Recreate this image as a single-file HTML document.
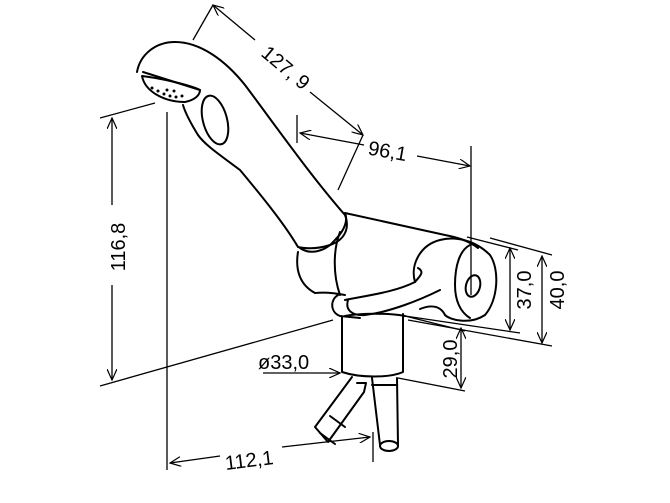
<!DOCTYPE html>
<html><head><style>
html,body{margin:0;padding:0;background:#fff;}
svg{display:block}
text{font-family:"Liberation Sans","DejaVu Sans",sans-serif;font-size:20px;fill:#000}
</style></head><body>
<svg width="670" height="503" viewBox="0 0 670 503" xmlns="http://www.w3.org/2000/svg">
<defs>
<marker id="a" viewBox="0 0 12 10" refX="11" refY="5" markerWidth="12" markerHeight="10" orient="auto-start-reverse" markerUnits="userSpaceOnUse">
<path d="M0,0 L11,5 L0,10" fill="none" stroke="#000" stroke-width="1.2"/>
</marker>
</defs>
<g fill="none" stroke="#000" stroke-width="1.3">
<line x1="193" y1="40" x2="213" y2="5"/>
<line x1="338" y1="190" x2="363" y2="135"/>
<line x1="213" y1="5" x2="255" y2="40" marker-start="url(#a)"/>
<line x1="310" y1="92" x2="363" y2="135" marker-end="url(#a)"/>
<line x1="297" y1="115" x2="297" y2="143"/>
<line x1="300" y1="133" x2="364" y2="145" marker-start="url(#a)"/>
<line x1="417" y1="156" x2="470" y2="166" marker-end="url(#a)"/>
<line x1="471" y1="146" x2="471" y2="295"/>
<line x1="100" y1="118" x2="155" y2="103"/>
<line x1="100" y1="386" x2="333" y2="320"/>
<line x1="112" y1="118" x2="112" y2="205" marker-start="url(#a)"/>
<line x1="112" y1="285" x2="112" y2="380" marker-end="url(#a)"/>
<line x1="167" y1="112" x2="167" y2="470"/>
<line x1="170" y1="463" x2="220" y2="456" marker-start="url(#a)"/>
<line x1="282" y1="447" x2="370" y2="437" marker-end="url(#a)"/>
<line x1="373" y1="432" x2="373" y2="462"/>
<line x1="263" y1="373" x2="340" y2="373" marker-end="url(#a)"/>
<line x1="405" y1="316" x2="465" y2="331"/>
<line x1="398" y1="378" x2="465" y2="391"/>
<line x1="461" y1="328" x2="461" y2="388" marker-start="url(#a)" marker-end="url(#a)"/>
<line x1="467" y1="237" x2="518" y2="250"/>
<line x1="405" y1="316" x2="520" y2="333"/>
<line x1="510" y1="248" x2="510" y2="330" marker-start="url(#a)" marker-end="url(#a)"/>
<line x1="490" y1="238" x2="552" y2="255"/>
<line x1="408" y1="320" x2="552" y2="346"/>
<line x1="542" y1="256" x2="542" y2="343" marker-start="url(#a)" marker-end="url(#a)"/>
</g>
<g fill="none" stroke="#000" stroke-width="2" stroke-linejoin="round" stroke-linecap="round">
<path d="M137,72 C140,55 155,42 175,42 C200,42 225,60 245,85 C275,125 310,175 345,215 C350,228 345,240 330,245 C315,250 302,248 298,247 C285,225 265,200 240,170 C220,155 205,145 198,135 C190,122 185,112 183,105"/>
<path d="M143,72 L200,90"/>
<path d="M142,76 C145,92 165,102 185,102 C195,100 200,95 200,90 C190,85 160,78 142,76Z"/>
<ellipse cx="215" cy="120" rx="12" ry="25" transform="rotate(-15 215 120)"/>
<path d="M300,248 C310,255 325,252 335,240 C345,230 348,220 345,213"/>
<path d="M345,213 L445,235 C455,237 468,240 478,248"/>
<path d="M298,252 C295,270 300,285 315,293"/>
<path d="M340,232 C333,250 333,275 340,295"/>
<path d="M315,293 C325,292 335,293 345,295"/>
<path d="M338,295 C330,300 330,312 340,316 L360,318"/>
<path d="M348,300 C345,310 352,316 365,315 C390,312 420,300 440,290"/>
<path d="M345,300 C370,295 395,292 415,282 C420,276 425,272 418,268"/>
<path d="M415,282 C410,265 420,245 440,240 C455,236 475,240 490,255 C500,270 498,300 485,315 C470,325 450,320 445,315 C440,305 430,305 420,309"/>
<path d="M470,245 C460,250 455,265 455,285 C455,300 460,312 470,318"/>
<ellipse cx="473" cy="286" rx="7" ry="11" transform="rotate(15 473 286)"/>
<path d="M345,316 C360,313 390,313 405,316"/>
<path d="M342,317 L342,372 C360,378 390,378 403,372 L403,314"/>
<path d="M352,377 L315,427 L328,442 L364,392 L366,383 L357,383"/>
<path d="M320,433 L335,444"/>
<path d="M330,416 L345,427"/>
<path d="M372,378 L380,445 M397,378 L398,445"/>
<path d="M372,385 L397,385"/>
<ellipse cx="389" cy="446" rx="9" ry="5"/>
</g>
<g fill="#000">
<circle cx="158" cy="91" r="1.5"/><circle cx="164" cy="94" r="1.5"/><circle cx="170" cy="96" r="1.5"/><circle cx="176" cy="97" r="1.5"/><circle cx="182" cy="96" r="1.5"/><circle cx="167" cy="90" r="1.5"/><circle cx="174" cy="91" r="1.5"/><circle cx="152" cy="88" r="1.5"/>
</g>
<text transform="translate(260,55) rotate(40)">127, 9</text>
<text x="368" y="158" transform="rotate(10 388 152)">96,1</text>
<text transform="translate(125,247) rotate(-90)" text-anchor="middle">116,8</text>
<text transform="translate(250,467) rotate(-7)" text-anchor="middle">112,1</text>
<text x="258" y="369">ø33,0</text>
<text transform="translate(457,359) rotate(-90)" text-anchor="middle">29,0</text>
<text transform="translate(531,290) rotate(-90)" text-anchor="middle">37,0</text>
<text transform="translate(564,290) rotate(-90)" text-anchor="middle">40,0</text>
</svg>
</body></html>
